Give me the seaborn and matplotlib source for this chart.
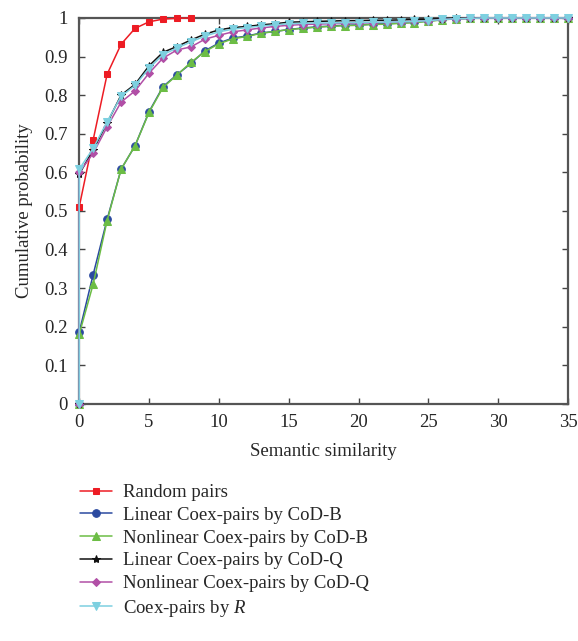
import numpy as np
import pandas as pd
import seaborn as sns
import matplotlib
matplotlib.use("Agg")
import matplotlib.pyplot as plt

# x positions: the curves start at (0, 0) then jump at 0
x_all = [0] + list(range(0, 36))
x_random = [0] + list(range(0, 9))

random_pairs = [0, 0.51, 0.684, 0.854, 0.932, 0.973, 0.99, 0.997, 0.999, 1.0]

lin_codb = [0, 0.185, 0.335, 0.478, 0.608, 0.669, 0.757, 0.822, 0.853, 0.882, 0.915,
            0.935, 0.948, 0.953, 0.961, 0.965, 0.970, 0.974, 0.977, 0.979, 0.981,
            0.982, 0.984, 0.985, 0.987, 0.989, 0.992, 0.996, 0.998, 0.999, 1.0,
            1.0, 1.0, 1.0, 1.0, 1.0, 1.0]
nonlin_codb = [0, 0.18, 0.31, 0.475, 0.608, 0.669, 0.755, 0.82, 0.852, 0.885, 0.913,
               0.933, 0.946, 0.952, 0.960, 0.965, 0.970, 0.973, 0.976, 0.978, 0.980,
               0.981, 0.983, 0.984, 0.986, 0.988, 0.991, 0.995, 0.998, 0.999, 1.0,
               1.0, 1.0, 1.0, 1.0, 1.0, 1.0]
lin_codq = [0, 0.595, 0.658, 0.728, 0.80, 0.828, 0.876, 0.911, 0.926, 0.943, 0.958,
            0.969, 0.975, 0.978, 0.982, 0.985, 0.989, 0.990, 0.991, 0.992, 0.993,
            0.993, 0.994, 0.994, 0.995, 0.996, 0.997, 0.998, 0.999, 1.0, 1.0,
            1.0, 1.0, 1.0, 1.0, 1.0, 1.0]
nonlin_codq = [0, 0.60, 0.649, 0.718, 0.782, 0.811, 0.857, 0.896, 0.917, 0.925, 0.945,
               0.955, 0.964, 0.969, 0.974, 0.978, 0.981, 0.983, 0.984, 0.985, 0.986,
               0.987, 0.988, 0.989, 0.990, 0.991, 0.993, 0.996, 0.998, 0.999, 1.0,
               1.0, 1.0, 1.0, 1.0, 1.0, 1.0]
coex_r = [0, 0.608, 0.662, 0.731, 0.797, 0.825, 0.87, 0.905, 0.922, 0.938, 0.953,
          0.964, 0.971, 0.975, 0.979, 0.982, 0.985, 0.986, 0.987, 0.987, 0.988,
          0.988, 0.989, 0.989, 0.990, 0.991, 0.993, 0.996, 0.998, 0.999, 1.0,
          1.0, 1.0, 1.0, 1.0, 1.0, 1.0]

series = [
    ("Random pairs", x_random, random_pairs, "#ED1C24", "s", 5),
    ("Linear Coex-pairs by CoD-B", x_all, lin_codb, "#2B4AA0", "o", 5.5),
    ("Nonlinear Coex-pairs by CoD-B", x_all, nonlin_codb, "#6CBD45", "^", 5.5),
    ("Linear Coex-pairs by CoD-Q", x_all, lin_codq, "#111111", "*", 6),
    ("Nonlinear Coex-pairs by CoD-Q", x_all, nonlin_codq, "#B14FA6", "D", 4.2),
    ("Coex-pairs by $R$", x_all, coex_r, "#7DD0E0", "v", 5.5),
]

sns.set_style("ticks")
plt.rcParams["font.family"] = ["Liberation Serif", "DejaVu Serif"]
plt.rcParams["mathtext.fontset"] = "custom"
plt.rcParams["mathtext.rm"] = "Liberation Serif"
plt.rcParams["mathtext.it"] = "Liberation Serif:italic"

fs = 13.5
fig = plt.figure(figsize=(5.78, 6.41), dpi=100)
ax = fig.add_axes([0.137, 0.370, 0.846, 0.602])

for name, xs, ys, col, mk, ms in series:
    df = pd.DataFrame({"x": xs, "y": ys})
    sns.lineplot(data=df, x="x", y="y", ax=ax, color=col, marker=mk, markersize=ms,
                 markeredgecolor=col, linewidth=1.1, estimator=None, sort=False,
                 label=name, clip_on=False, zorder=3)

ax.set_xlim(0, 35)
ax.set_ylim(0, 1)
ax.set_xticks(np.arange(0, 36, 5))
ax.set_yticks(np.arange(0, 1.01, 0.1))
ax.set_yticklabels(["0", "0.1", "0.2", "0.3", "0.4", "0.5", "0.6", "0.7", "0.8", "0.9", "1"])
ax.tick_params(direction="in", top=True, right=True, labelsize=fs, length=4,
               width=1, color="#444444")
ax.tick_params(axis="y", pad=8)
ax.tick_params(axis="x", pad=7)
for s in ax.spines.values():
    s.set_color("#555555")
    s.set_linewidth(1.6)
ax.set_xlabel("Semantic similarity", fontsize=fs, labelpad=9)
ax.set_ylabel("Cumulative probability", fontsize=fs, labelpad=8)

h, l = ax.get_legend_handles_labels()
ax.get_legend().remove()
fig.legend(h, l, loc="upper left", bbox_to_anchor=(80 / 578, 1 - 484 / 641),
           frameon=False, fontsize=fs, handlelength=1.7, handletextpad=0.6,
           labelspacing=0.3, borderpad=0, borderaxespad=0)

fig.savefig("out.png", dpi=100)
